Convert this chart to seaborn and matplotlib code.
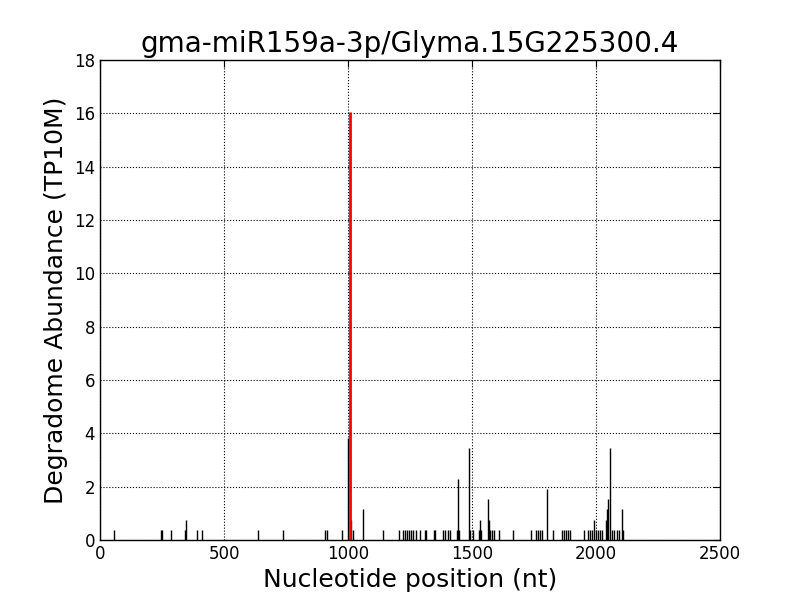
import numpy as np
import pandas as pd
import seaborn as sns
import matplotlib
matplotlib.use("Agg")
import matplotlib.pyplot as plt

# degradome read positions (nt) and read counts, 1 read = 0.382 TP10M
positions = [56, 246, 250, 286, 343, 347, 391, 411, 637, 738, 907, 915, 976,
             999, 1014, 1020, 1060, 1140, 1206, 1222, 1231, 1238, 1246, 1254,
             1262, 1274, 1291, 1310, 1315, 1347, 1351, 1383, 1391, 1403, 1411,
             1439, 1443, 1448, 1487, 1492, 1503, 1528, 1532, 1536, 1565, 1568,
             1572, 1581, 1589, 1610, 1666, 1738, 1758, 1766, 1774, 1782, 1802,
             1827, 1863, 1871, 1879, 1887, 1895, 1951, 1968, 1976, 1984, 1992,
             2000, 2008, 2016, 2024, 2040, 2046, 2050, 2056, 2064, 2072, 2085,
             2093, 2105, 2109]
reads = [1, 1, 1, 1, 1, 2, 1, 1, 1, 1, 1, 1, 1,
         10, 2, 1, 3, 1, 1, 1, 1, 1, 1, 1,
         1, 1, 1, 1, 1, 1, 1, 1, 1, 1, 1,
         1, 6, 1, 9, 1, 1, 1, 2, 1, 4, 2,
         1, 1, 1, 1, 1, 1, 1, 1, 1, 1, 5,
         1, 1, 1, 1, 1, 1, 1, 1, 1, 1, 2,
         1, 1, 1, 1, 2, 3, 4, 9, 1, 1, 1,
         1, 3, 1]
tp10m_per_read = 0.382

# cleavage site of the miRNA
site_pos = 1009
site_abund = 16.04

df = pd.DataFrame({"pos": positions, "abund": np.array(reads) * tp10m_per_read})

sns.set_style("white", {"xtick.direction": "in", "ytick.direction": "in",
                        "axes.edgecolor": "black", "text.color": "black",
                        "axes.labelcolor": "black", "xtick.color": "black",
                        "ytick.color": "black"})
plt.rcParams["font.family"] = ["DejaVu Sans"]

fig, ax = plt.subplots(figsize=(8, 6), dpi=100)
fig.subplots_adjust(left=0.125, right=0.9, bottom=0.1, top=0.9)

ax.vlines(df["pos"], 0, df["abund"], colors="black", linewidth=1)
ax.vlines([site_pos], 0, [site_abund], colors="red", linewidth=2)

ax.set_xlim(0, 2500)
ax.set_ylim(0, 18)
ax.set_xticks(range(0, 2501, 500))
ax.set_yticks(range(0, 19, 2))
ax.grid(True, linestyle=":", color="black", linewidth=0.8)
ax.tick_params(direction="in", length=5, labelsize=12, top=True, right=True,
               colors="black")
for s in ax.spines.values():
    s.set_color("black")
    s.set_linewidth(1)

ax.set_title("gma-miR159a-3p/Glyma.15G225300.4", fontsize=20, color="black")
ax.set_xlabel("Nucleotide position (nt)", fontsize=18, color="black")
ax.set_ylabel("Degradome Abundance (TP10M)", fontsize=18, color="black")

fig.savefig("out.png", dpi=100)
